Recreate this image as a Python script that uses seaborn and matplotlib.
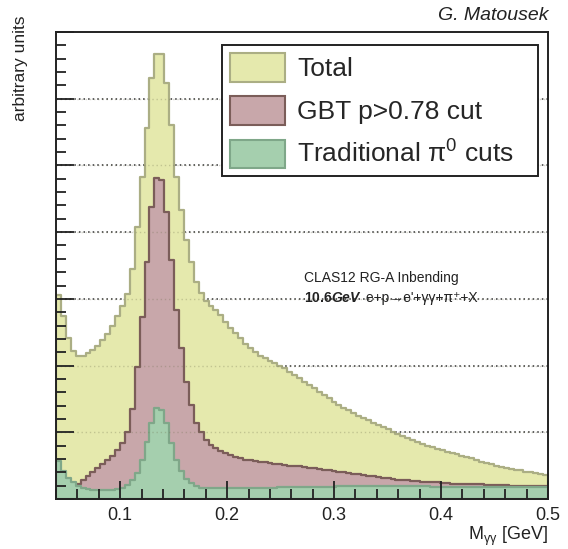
import numpy as np
import pandas as pd
import matplotlib
matplotlib.use("Agg")
import matplotlib.pyplot as plt
import seaborn as sns
from matplotlib.patches import Patch
from matplotlib.ticker import MultipleLocator

# histogram binning (100 bins, 0.04 - 0.5 GeV)
x_lo, x_hi, n_bins = 0.04, 0.5, 100

total = [3.06, 2.75, 2.42, 2.22, 2.14, 2.14, 2.19, 2.24, 2.30, 2.38,
         2.48, 2.60, 2.74, 2.90, 3.08, 3.45, 4.08, 4.83, 5.56, 6.31,
         6.67, 6.67, 6.24, 5.60, 4.83, 4.33, 3.88, 3.55, 3.25, 3.09,
         2.97, 2.90, 2.84, 2.76, 2.66, 2.57, 2.49, 2.41, 2.33, 2.26,
         2.20, 2.15, 2.11, 2.07, 2.04, 2.00, 1.96, 1.91, 1.86, 1.81,
         1.76, 1.71, 1.66, 1.61, 1.56, 1.51, 1.46, 1.41, 1.37, 1.33,
         1.29, 1.25, 1.21, 1.18, 1.14, 1.11, 1.08, 1.05, 1.01, 0.98,
         0.95, 0.92, 0.89, 0.86, 0.83, 0.80, 0.78, 0.75, 0.73, 0.71,
         0.69, 0.67, 0.65, 0.63, 0.61, 0.59, 0.56, 0.54, 0.52, 0.50,
         0.48, 0.47, 0.45, 0.44, 0.43, 0.41, 0.40, 0.39, 0.37, 0.36]

gbt = [0.05, 0.08, 0.12, 0.17, 0.22, 0.28, 0.34, 0.40, 0.46, 0.52,
       0.58, 0.65, 0.73, 0.84, 1.00, 1.35, 1.98, 2.73, 3.55, 4.37,
       4.81, 4.78, 4.30, 3.58, 2.83, 2.26, 1.75, 1.41, 1.14, 1.00,
       0.88, 0.81, 0.76, 0.72, 0.69, 0.66, 0.63, 0.61, 0.59, 0.58,
       0.57, 0.56, 0.55, 0.54, 0.53, 0.52, 0.51, 0.50, 0.49, 0.49,
       0.48, 0.47, 0.46, 0.45, 0.44, 0.43, 0.42, 0.41, 0.40, 0.39,
       0.38, 0.37, 0.36, 0.35, 0.34, 0.33, 0.32, 0.31, 0.30, 0.29,
       0.28, 0.28, 0.27, 0.27, 0.26, 0.26, 0.25, 0.25, 0.24, 0.24,
       0.23, 0.23, 0.23, 0.22, 0.22, 0.22, 0.22, 0.21, 0.21, 0.21,
       0.21, 0.21, 0.20, 0.20, 0.20, 0.20, 0.20, 0.20, 0.20, 0.20]

trad = [0.57, 0.42, 0.32, 0.26, 0.20, 0.17, 0.15, 0.14, 0.14, 0.14,
        0.14, 0.14, 0.15, 0.17, 0.21, 0.28, 0.39, 0.58, 0.86, 1.14,
        1.37, 1.33, 1.14, 0.84, 0.58, 0.42, 0.30, 0.24, 0.19, 0.17,
        0.16, 0.16, 0.17, 0.17, 0.17, 0.17, 0.17, 0.17, 0.17, 0.17,
        0.17, 0.17, 0.17, 0.17, 0.17, 0.18, 0.18, 0.18, 0.18, 0.18,
        0.18, 0.18, 0.18, 0.18, 0.18, 0.18, 0.18, 0.19, 0.19, 0.19,
        0.19, 0.19, 0.19, 0.19, 0.19, 0.19, 0.19, 0.19, 0.19, 0.19,
        0.19, 0.19, 0.19, 0.19, 0.19, 0.19, 0.18, 0.18, 0.18, 0.18,
        0.18, 0.18, 0.18, 0.18, 0.18, 0.18, 0.18, 0.18, 0.18, 0.18,
        0.18, 0.18, 0.18, 0.18, 0.18, 0.18, 0.18, 0.18, 0.18, 0.18]

labels = ["Total", "GBT p>0.78 cut", r"Traditional $\pi^{0}$ cuts"]
fills = ["#e5e9ad", "#c8a7aa", "#a5cfae"]
edges_c = ["#abae84", "#7b5d59", "#7fa789"]

bin_edges = list(np.linspace(x_lo, x_hi, n_bins + 1))
centers = [0.5 * (a + b) for a, b in zip(bin_edges[:-1], bin_edges[1:])]

sns.set_theme(style="white")
plt.rcParams['font.family'] = ['Liberation Sans', 'DejaVu Sans']
plt.rcParams['mathtext.fontset'] = 'custom'
plt.rcParams['mathtext.rm'] = 'Liberation Sans'
plt.rcParams['mathtext.it'] = 'Liberation Sans:italic'
plt.rcParams['mathtext.bf'] = 'Liberation Sans:bold'
plt.rcParams['mathtext.bfit'] = 'Liberation Sans:bold:italic'
plt.rcParams['mathtext.default'] = 'regular'

fig = plt.figure(figsize=(5.68, 5.49), dpi=100)
ax = fig.add_axes([56 / 568, 50 / 549, 492 / 568, 467 / 549])
ax.set_axisbelow(False)  # ticks drawn over the filled histograms

# dotted horizontal grid, behind the histograms
for y in range(1, 7):
    ax.axhline(y, color="#333333", ls=(0, (1, 2)), lw=1.1, zorder=0.5)

for vals, fc, ec, z in zip([total, gbt, trad], fills, edges_c, [1.1, 1.2, 1.3]):
    df = pd.DataFrame({"m": centers, "w": vals})
    sns.histplot(data=df, x="m", weights="w", bins=bin_edges, element="step",
                 fill=True, facecolor=fc, edgecolor=ec, linewidth=1.6,
                 alpha=1, ax=ax, zorder=z)

# grid faintly visible through the fills
for y in range(1, 7):
    ax.axhline(y, color="#6f7050", ls=(0, (1, 2)), lw=1.0, alpha=0.3, zorder=1.5)

ax.set_xlim(x_lo, x_hi)
ax.set_ylim(0, 7)
ax.xaxis.set_major_locator(MultipleLocator(0.1))
ax.xaxis.set_minor_locator(MultipleLocator(0.02))
ax.yaxis.set_major_locator(MultipleLocator(1))
ax.yaxis.set_minor_locator(MultipleLocator(0.2))
ax.tick_params(which="both", direction="in", color="#222222", width=1.3,
               top=False, right=False, bottom=True, left=True)
ax.tick_params(which="major", length=13)
ax.tick_params(which="minor", length=7)
ax.tick_params(axis="x", labelsize=13, pad=6, labelcolor="#222222")
ax.tick_params(axis="y", labelleft=False)
for s in ax.spines.values():
    s.set_color("#222222")
    s.set_linewidth(1.4)

ax.set_xlabel(r"M$_{\gamma\gamma}$ [GeV]", loc="right", fontsize=13,
              color="#222222")
ax.xaxis.set_label_coords(1.0, -0.056)
ax.set_ylabel("arbitrary units", loc="top", fontsize=12.5, color="#222222")
ax.yaxis.set_label_coords(-0.056, 1.036)

handles = [Patch(facecolor=fc, edgecolor=ec, lw=1.5) for fc, ec in zip(fills, edges_c)]
leg = ax.legend(handles, labels, loc="upper left",
                bbox_to_anchor=(0.3374, 0.70, 0.6423, 0.272), mode="expand",
                fontsize=19, frameon=True, fancybox=False, framealpha=1,
                edgecolor="#222222", handlelength=2.1, handleheight=1.3,
                labelspacing=0.55, borderpad=0.3, handletextpad=0.45,
                borderaxespad=0)
leg.get_frame().set_linewidth(1.4)
leg.set_zorder(10)

ax.text(0.504, 0.473, "CLAS12 RG-A Inbending", transform=ax.transAxes,
        fontsize=10, color="#222222", va="center", ha="left", zorder=10)
t1 = ax.text(0.504, 0.430, r"$\mathbf{10.6}\mathbfit{GeV}$",
             transform=ax.transAxes, fontsize=10, color="#222222",
             va="center", ha="left", zorder=10)
ax.annotate(" e+p\u2192e'+\u03b3\u03b3+\u03c0\u207a+X", xy=(1, 0.5), xycoords=t1,
            fontsize=10, color="#222222", va="center", ha="left", zorder=10,
            family=['Liberation Sans', 'DejaVu Sans'])

fig.text(549 / 568, 1 - 15 / 549, "G. Matousek", style="italic",
         fontsize=14, color="#222222", ha="right", va="center")

fig.savefig("out.png", dpi=100)
